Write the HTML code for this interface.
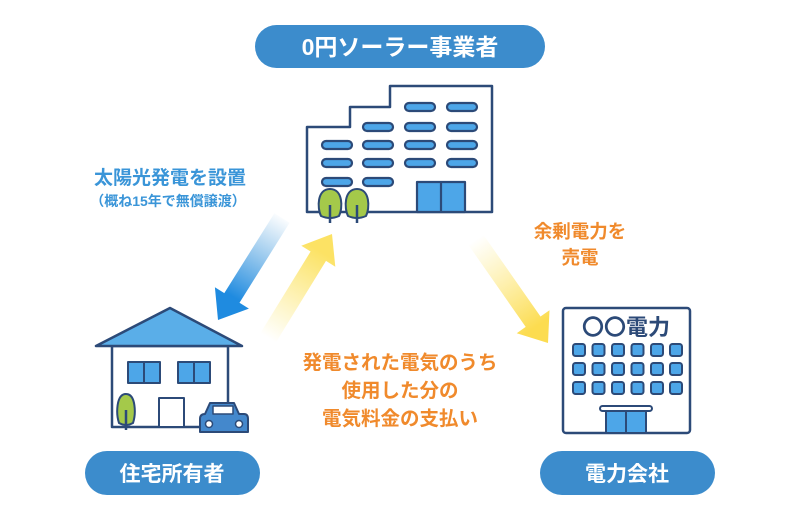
<!DOCTYPE html>
<html><head><meta charset="utf-8"><style>
body{margin:0;background:#fff;width:800px;height:519px;overflow:hidden}
text{font-family:"Liberation Sans","Noto Sans CJK JP",sans-serif;font-weight:bold}
</style></head><body>
<svg width="800" height="519" xmlns="http://www.w3.org/2000/svg">
<defs>
<linearGradient id="gb" x1="282" y1="215" x2="222" y2="318" gradientUnits="userSpaceOnUse"><stop offset="0" stop-color="#3a95d8" stop-opacity="0"/><stop offset="0.8" stop-color="#1f8be0"/></linearGradient>
<linearGradient id="gy1" x1="268" y1="338" x2="330" y2="236" gradientUnits="userSpaceOnUse"><stop offset="0" stop-color="#fce66a" stop-opacity="0"/><stop offset="0.85" stop-color="#fce264"/></linearGradient>
<linearGradient id="gy2" x1="478" y1="238" x2="547" y2="342" gradientUnits="userSpaceOnUse"><stop offset="0" stop-color="#fce66a" stop-opacity="0"/><stop offset="0.85" stop-color="#fcdc50"/></linearGradient>
</defs>
<rect x="255" y="25" width="290" height="43" rx="21.5" fill="#3c8ccc"/>
<text x="400" y="55" font-size="23" fill="#fff" text-anchor="middle">0円ソーラー事業者</text>
<rect x="85" y="451" width="175" height="44" rx="22" fill="#3c8ccc"/>
<text x="172" y="481" font-size="21" fill="#fff" text-anchor="middle">住宅所有者</text>
<rect x="540" y="451" width="175" height="44" rx="22" fill="#3c8ccc"/>
<text x="627" y="481" font-size="21" fill="#fff" text-anchor="middle">電力会社</text>

<g stroke="#2c4a78" stroke-width="2.5" stroke-linejoin="round">
<path d="M307 212 V127 H350 V107 H390 V86 H492 V212 Z" fill="#fff"/>
<g fill="#4da6e8" stroke-width="2.2">
<rect x="405" y="103" width="30" height="8" rx="4"/><rect x="447" y="103" width="30" height="8" rx="4"/>
<rect x="363" y="123" width="30" height="8" rx="4"/><rect x="405" y="123" width="30" height="8" rx="4"/><rect x="447" y="123" width="30" height="8" rx="4"/>
<rect x="322" y="141" width="30" height="8" rx="4"/><rect x="363" y="141" width="30" height="8" rx="4"/><rect x="405" y="141" width="30" height="8" rx="4"/><rect x="447" y="141" width="30" height="8" rx="4"/>
<rect x="322" y="159" width="30" height="8" rx="4"/><rect x="363" y="159" width="30" height="8" rx="4"/><rect x="405" y="159" width="30" height="8" rx="4"/><rect x="447" y="159" width="30" height="8" rx="4"/>
<rect x="322" y="178" width="30" height="8" rx="4"/><rect x="363" y="178" width="30" height="8" rx="4"/>
<rect x="417" y="182" width="48" height="30"/><line x1="441" y1="182" x2="441" y2="212"/>
</g>
<g fill="#a4c94a" stroke-width="2">
<path d="M330 189 C317 189 317 208 321 216 Q330 220 339 216 C343 208 343 189 330 189 Z"/>
<path d="M357 189 C344 189 344 208 348 216 Q357 220 366 216 C370 208 370 189 357 189 Z"/>
</g>
<line x1="330" y1="205" x2="330" y2="223"/><line x1="357" y1="205" x2="357" y2="223"/>
</g>

<g stroke="#2c4a78" stroke-width="2.5">
<rect x="563" y="308" width="127" height="125" rx="3" fill="#fff"/>
<g fill="#4da6e8" stroke-width="2">
<g id="r"><rect x="573" y="344" width="12" height="12" rx="2.5"/><rect x="592.5" y="344" width="12" height="12" rx="2.5"/><rect x="612" y="344" width="12" height="12" rx="2.5"/><rect x="631.5" y="344" width="12" height="12" rx="2.5"/><rect x="651" y="344" width="12" height="12" rx="2.5"/><rect x="670" y="344" width="12" height="12" rx="2.5"/></g>
<use href="#r" y="19"/><use href="#r" y="38"/>
<rect x="606" y="411" width="40" height="22"/><line x1="626" y1="411" x2="626" y2="433"/>
<rect x="600" y="406" width="52" height="5" rx="2.5" fill="#fff"/>
</g>
</g>
<text x="626" y="335" font-size="22" fill="#2c4a78" text-anchor="middle">〇〇電力</text>

<g stroke="#2c4a78" stroke-width="2.5" stroke-linejoin="round">
<rect x="112" y="346" width="116" height="81" fill="#fff"/>
<path d="M170 308 L96 346 H242 Z" fill="#5aaee8"/>
<g fill="#4da6e8" stroke-width="2"><rect x="128" y="362" width="32" height="21"/><line x1="144" y1="362" x2="144" y2="383"/><rect x="178" y="362" width="32" height="21"/><line x1="194" y1="362" x2="194" y2="383"/></g>
<rect x="159" y="398" width="25" height="29" fill="#fff" stroke-width="2"/>
<path d="M126 394 C116 394 116 414 119 423 Q126 427 133 423 C136 414 136 394 126 394 Z" fill="#a4c94a" stroke-width="2"/>
<line x1="126" y1="410" x2="126" y2="430"/>
<path d="M205 414 L210 403 H234 L239 414 H244 Q248 414 248 419 V432 H200 V419 Q200 414 205 414 Z" fill="#4488cc" stroke-width="2"/>
<rect x="213" y="406" width="20" height="8" fill="#fff" stroke-width="1.5"/>
<circle cx="209" cy="424" r="3.5" fill="#fff" stroke-width="1.5"/><circle cx="239" cy="424" r="3.5" fill="#fff" stroke-width="1.5"/>
</g>

<polygon points="289.6,222.8 239.5,302.7 248.9,308.6 218,320 214.9,287.2 224.3,293.1 274.4,213.2" fill="url(#gb)"/>
<polygon points="275.7,342.7 326,260.9 335.3,266.7 332,234 301.3,245.7 310.6,251.5 260.3,333.3" fill="url(#gy1)"/>
<polygon points="483.4,234.8 540.5,316.5 549.5,310.2 548,343 516.7,333.2 525.7,326.9 468.6,245.2" fill="url(#gy2)"/>

<text x="170" y="184" font-size="19" fill="#3a95d8" text-anchor="middle">太陽光発電を設置</text>
<text x="168" y="206" font-size="14" fill="#3a95d8" text-anchor="middle">（概ね15年で無償譲渡）</text>
<text x="580" y="238" font-size="18.5" fill="#f08a2c" text-anchor="middle">余剰電力を</text>
<text x="580" y="264" font-size="18.5" fill="#f08a2c" text-anchor="middle">売電</text>
<text x="400" y="369" font-size="19.5" fill="#f08a2c" text-anchor="middle">発電された電気のうち</text>
<text x="400" y="397" font-size="19.5" fill="#f08a2c" text-anchor="middle">使用した分の</text>
<text x="400" y="425" font-size="19.5" fill="#f08a2c" text-anchor="middle">電気料金の支払い</text>
</svg>
</body></html>
